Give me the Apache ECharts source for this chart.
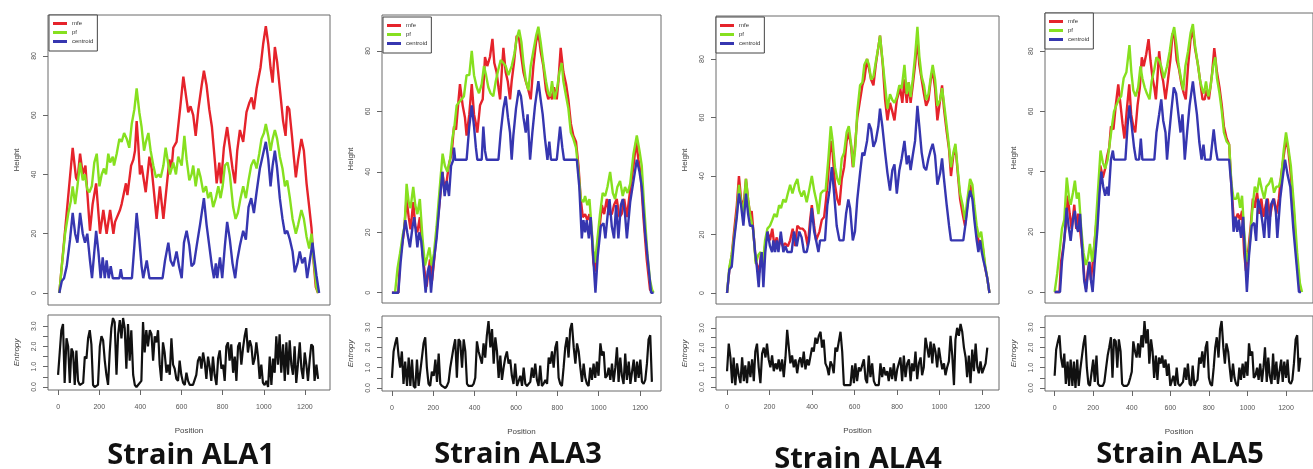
<!DOCTYPE html>
<html><head><meta charset="utf-8">
<script src="https://cdn.jsdelivr.net/npm/echarts@6/dist/echarts.min.js"></script>
<style>html,body{margin:0;padding:0;background:#fff}#c{width:1313px;height:469px}</style>
</head><body><div id="c"></div>
<script>
// ---------- DATA ----------
const strains = ['Strain ALA1','Strain ALA3','Strain ALA4','Strain ALA5'];
const seriesNames = ['mfe','pf','centroid'];
const heightTicks = [0,20,40,60,80];
const entropyTicks = [0,0.5,1,1.5,2,2.5,3];
const entropyLabels = [0,1,2,3];
const positionTicks = [0,200,400,600,800,1000,1200];

// Strain ALA1 mountain plot [position, height]
const ala1Mfe = [[6,0],[71,49],[87,39],[94,38],[107,47],[120,40],[133,43],[142,34],[155,21],[168,30],[185,37],[204,20],[220,28],[236,20],[253,28],[269,20],[277,24],[285,24],[301,28],[309,30],[330,37],[337,33],[355,43],[366,45],[374,48],[382,58],[390,50],[398,40],[406,43],[426,34],[444,46],[455,42],[479,25],[495,36],[512,25],[528,36],[541,45],[552,42],[560,49],[576,51],[593,62],[609,73],[625,65],[633,61],[644,63],[657,60],[669,53],[682,62],[698,70],[709,75],[722,70],[735,62],[748,56],[763,44],[771,37],[784,44],[792,37],[806,49],[822,56],[835,49],[848,42],[860,37],[871,48],[884,55],[900,51],[916,61],[929,64],[941,66],[952,62],[965,69],[984,76],[997,84],[1010,90],[1022,84],[1033,76],[1043,71],[1054,83],[1065,78],[1078,69],[1094,58],[1106,53],[1114,63],[1124,62],[1137,53],[1146,46],[1156,39],[1167,45],[1183,52],[1195,48],[1208,37],[1221,29],[1232,22],[1243,10],[1253,2],[1264,0]];
const ala1Pf = [[6,0],[18,9],[34,20],[50,27],[62,31],[71,36],[83,30],[94,36],[107,44],[120,38],[130,40],[142,35],[152,34],[164,36],[176,44],[188,47],[201,36],[212,40],[223,42],[233,40],[244,47],[253,44],[266,46],[272,43],[285,47],[298,52],[309,51],[321,54],[334,52],[346,49],[358,57],[371,62],[382,69],[395,61],[406,56],[418,48],[427,51],[439,54],[450,48],[463,43],[476,39],[489,40],[499,39],[512,43],[523,49],[544,40],[560,44],[573,40],[584,46],[601,43],[614,53],[625,45],[638,38],[649,40],[657,43],[669,36],[682,42],[693,39],[706,34],[719,36],[730,32],[742,34],[754,29],[767,32],[779,36],[790,32],[800,36],[811,43],[824,44],[835,40],[851,29],[863,25],[874,27],[887,32],[900,36],[913,32],[926,38],[939,43],[952,45],[965,42],[978,47],[989,52],[1001,54],[1010,57],[1022,53],[1033,48],[1043,52],[1054,55],[1065,52],[1078,46],[1091,42],[1103,36],[1114,38],[1127,32],[1140,25],[1156,20],[1167,23],[1183,28],[1195,25],[1208,19],[1221,15],[1232,20],[1243,11],[1256,2],[1264,0]];
const ala1Cen = [[6,0],[18,4],[29,5],[42,9],[58,18],[71,27],[83,20],[94,17],[107,27],[120,20],[131,17],[142,20],[155,11],[165,5],[185,21],[196,14],[207,5],[217,12],[227,5],[236,11],[246,5],[256,9],[266,5],[298,5],[305,8],[312,5],[359,5],[371,16],[382,27],[395,18],[406,9],[414,5],[431,11],[444,5],[508,5],[520,11],[536,17],[547,11],[560,9],[576,14],[588,9],[601,5],[612,17],[625,21],[638,16],[649,9],[661,10],[674,16],[690,23],[709,32],[722,23],[735,16],[748,9],[758,5],[767,10],[774,5],[787,12],[798,5],[811,16],[822,24],[835,18],[848,10],[861,5],[871,11],[884,16],[900,21],[913,18],[926,29],[939,32],[952,27],[965,34],[981,42],[997,47],[1010,51],[1022,45],[1033,36],[1043,43],[1054,48],[1065,42],[1078,32],[1091,25],[1103,20],[1114,21],[1127,18],[1140,14],[1151,7],[1164,10],[1175,14],[1187,10],[1200,12],[1211,5],[1224,11],[1237,17],[1247,11],[1256,6],[1269,0]];

// Strain ALA3
const ala3Mfe = [[0,0],[31,0],[39,11],[47,15],[58,20],[71,31],[81,25],[90,21],[103,30],[113,22],[123,20],[135,25],[148,13],[160,6],[168,2],[176,7],[184,11],[194,4],[203,10],[216,20],[232,31],[244,40],[253,35],[265,37],[277,43],[289,46],[300,55],[310,54],[321,63],[329,69],[342,62],[353,58],[361,52],[374,59],[386,69],[397,59],[406,56],[413,53],[426,62],[439,64],[450,78],[461,75],[474,78],[486,84],[495,76],[506,73],[515,68],[523,64],[531,73],[539,81],[550,73],[560,70],[571,64],[579,70],[590,76],[603,85],[615,84],[624,79],[636,73],[647,70],[660,67],[671,64],[684,75],[697,83],[708,86],[719,80],[732,75],[745,67],[756,64],[765,66],[774,64],[784,68],[797,64],[805,70],[816,81],[829,73],[842,69],[853,64],[865,56],[877,52],[890,50],[902,42],[913,31],[923,25],[934,26],[945,24],[955,26],[966,20],[974,10],[982,7],[990,13],[1003,21],[1015,29],[1026,26],[1039,31],[1050,26],[1063,26],[1074,29],[1087,31],[1100,25],[1111,26],[1123,31],[1136,25],[1152,34],[1168,42],[1181,50],[1192,44],[1203,39],[1216,25],[1232,11],[1248,1],[1261,0]];
const ala3Pf = [[15,0],[27,8],[39,13],[52,19],[61,22],[71,36],[81,30],[90,28],[103,35],[113,29],[123,26],[135,31],[148,18],[160,9],[171,12],[181,15],[192,9],[203,13],[216,22],[229,33],[245,46],[256,42],[268,40],[281,44],[292,51],[302,55],[313,62],[324,63],[337,64],[348,65],[361,72],[374,72],[386,80],[397,72],[410,68],[421,66],[434,69],[445,75],[455,72],[466,68],[477,66],[490,65],[502,70],[515,74],[526,77],[539,76],[550,75],[563,72],[579,75],[592,79],[603,84],[615,87],[626,83],[636,76],[648,70],[660,67],[671,75],[684,80],[697,85],[708,88],[719,83],[732,76],[745,70],[756,66],[765,65],[774,70],[786,64],[797,67],[810,73],[821,76],[829,70],[842,65],[853,61],[865,53],[877,51],[890,48],[902,40],[913,31],[926,30],[934,32],[945,29],[955,31],[966,21],[974,14],[982,10],[994,18],[1006,26],[1019,33],[1031,32],[1042,35],[1055,40],[1068,33],[1079,31],[1090,35],[1103,37],[1116,32],[1127,35],[1139,33],[1152,36],[1168,46],[1184,52],[1197,47],[1208,42],[1219,29],[1235,13],[1248,4],[1258,1],[1265,0]];
const ala3Cen = [[0,0],[31,0],[42,10],[55,19],[65,24],[74,20],[87,15],[100,22],[108,25],[116,20],[123,15],[132,20],[142,17],[152,9],[163,0],[173,7],[181,9],[189,0],[200,9],[216,18],[232,31],[244,40],[255,32],[265,37],[276,32],[286,42],[297,44],[300,48],[306,44],[361,44],[374,55],[386,62],[397,55],[406,48],[413,44],[434,44],[442,55],[450,47],[458,44],[515,44],[526,53],[539,61],[550,65],[561,58],[571,53],[579,44],[587,52],[600,61],[613,67],[624,65],[636,58],[647,53],[656,59],[668,44],[679,53],[692,62],[708,70],[719,64],[729,59],[740,51],[752,44],[761,50],[769,44],[797,44],[813,55],[824,48],[832,44],[894,44],[906,35],[918,18],[926,24],[934,20],[942,24],[952,18],[961,25],[974,11],[984,0],[995,12],[1010,22],[1023,23],[1032,18],[1042,25],[1052,31],[1063,22],[1074,18],[1084,29],[1095,18],[1107,29],[1116,31],[1127,26],[1136,18],[1152,30],[1168,37],[1184,44],[1197,40],[1208,35],[1224,20],[1240,9],[1253,0],[1265,0]];

// Strain ALA4
const ala4Mfe = [[0,0],[11,8],[22,13],[33,21],[46,30],[56,40],[66,32],[77,29],[89,39],[99,32],[108,27],[116,28],[124,21],[135,11],[144,9],[152,7],[160,14],[168,9],[179,16],[190,21],[202,18],[213,22],[223,16],[234,19],[242,16],[253,18],[262,16],[273,17],[286,16],[297,18],[309,22],[320,16],[331,23],[344,22],[356,22],[367,21],[380,16],[391,25],[399,30],[410,23],[419,18],[435,21],[446,25],[457,26],[466,32],[477,41],[488,52],[497,48],[508,37],[519,32],[529,30],[540,39],[551,43],[563,52],[573,55],[584,50],[592,43],[602,50],[613,60],[626,66],[637,71],[646,73],[659,80],[668,80],[678,73],[689,71],[700,78],[712,84],[720,88],[733,78],[744,66],[755,59],[767,65],[778,62],[788,59],[799,66],[815,70],[825,65],[835,73],[846,65],[855,72],[864,65],[874,71],[885,78],[896,87],[905,78],[916,73],[927,68],[937,64],[948,66],[959,73],[968,76],[979,70],[990,59],[1003,66],[1012,71],[1021,63],[1034,55],[1045,49],[1054,40],[1065,47],[1075,50],[1086,41],[1097,32],[1109,27],[1120,23],[1131,30],[1144,37],[1155,34],[1164,27],[1175,21],[1186,17],[1194,18],[1203,16],[1214,9],[1225,5],[1235,0]];
const ala4Pf = [[0,0],[11,9],[22,13],[33,19],[46,27],[56,37],[66,31],[77,27],[89,39],[99,32],[108,27],[124,21],[135,10],[147,13],[158,14],[168,10],[179,18],[190,22],[202,23],[213,25],[223,27],[234,26],[245,30],[254,29],[265,32],[276,31],[286,34],[297,37],[308,34],[319,37],[331,39],[340,35],[351,33],[362,35],[375,31],[386,35],[399,40],[410,35],[422,31],[430,27],[441,34],[453,35],[464,35],[477,46],[488,57],[497,52],[508,43],[519,39],[529,37],[540,46],[551,48],[563,55],[573,57],[584,51],[595,43],[604,50],[613,62],[626,71],[637,72],[646,78],[659,80],[668,78],[678,73],[689,74],[700,79],[712,84],[720,88],[731,80],[744,71],[755,63],[767,68],[778,66],[788,65],[799,67],[811,71],[822,70],[835,78],[846,68],[855,72],[864,67],[874,73],[885,81],[896,91],[905,81],[916,74],[927,71],[937,66],[948,68],[959,74],[968,78],[979,73],[990,64],[1003,66],[1012,70],[1021,65],[1034,57],[1045,50],[1054,43],[1065,48],[1075,51],[1086,42],[1097,34],[1109,30],[1120,25],[1131,32],[1144,39],[1155,37],[1164,30],[1175,23],[1186,19],[1196,21],[1203,17],[1214,10],[1225,5],[1235,0]];
const ala4Cen = [[0,0],[11,8],[22,9],[33,18],[46,26],[56,34],[66,30],[77,23],[89,34],[99,27],[108,23],[121,23],[132,14],[140,9],[149,2],[155,9],[163,14],[171,2],[180,14],[190,21],[202,16],[212,14],[218,18],[226,14],[234,18],[242,14],[253,21],[265,14],[275,16],[284,14],[304,14],[315,21],[328,16],[340,21],[351,19],[362,14],[375,14],[386,18],[399,29],[410,21],[419,18],[430,14],[438,18],[461,18],[472,30],[482,35],[493,43],[504,34],[516,23],[529,18],[548,18],[560,27],[571,32],[579,29],[592,18],[602,21],[613,32],[626,41],[637,48],[646,47],[659,52],[668,58],[678,56],[689,50],[700,52],[712,57],[720,63],[731,57],[744,48],[755,41],[767,35],[778,42],[788,44],[799,34],[811,42],[822,46],[835,52],[846,44],[855,47],[864,42],[874,47],[885,52],[896,64],[905,57],[916,48],[927,43],[937,42],[948,46],[959,49],[968,51],[979,47],[990,37],[1003,41],[1012,46],[1021,39],[1034,30],[1045,23],[1054,18],[1112,18],[1125,25],[1136,32],[1144,35],[1155,32],[1164,25],[1175,18],[1183,14],[1191,18],[1199,14],[1207,11],[1214,9],[1225,5],[1235,0]];

// Strain ALA5
const ala5Mfe = [[0,0],[25,0],[33,10],[45,15],[58,22],[68,32],[78,26],[88,21],[102,29],[112,21],[122,26],[133,20],[145,13],[155,4],[163,1],[172,7],[180,10],[188,4],[198,10],[212,20],[225,29],[237,42],[250,38],[262,41],[272,45],[283,48],[292,55],[305,54],[317,62],[330,69],[342,62],[352,56],[362,51],[375,61],[387,69],[397,59],[408,55],[418,53],[430,62],[442,68],[452,78],[462,75],[475,79],[487,84],[497,77],[508,71],[517,68],[525,64],[533,71],[542,80],[553,73],[563,70],[575,64],[587,70],[600,77],[612,86],[622,85],[633,77],[645,74],[658,69],[670,66],[680,64],[692,75],[705,84],[717,87],[728,81],[742,76],[755,70],[767,64],[778,64],[788,67],[800,64],[808,68],[817,73],[828,81],[842,73],[855,68],[867,62],[878,55],[892,51],[905,49],[917,35],[928,25],[938,24],[950,26],[962,24],[972,27],[983,13],[992,7],[1003,13],[1017,22],[1028,31],[1038,28],[1050,33],[1062,26],[1072,31],[1083,25],[1095,29],[1105,31],[1117,25],[1128,29],[1138,31],[1150,26],[1163,31],[1175,39],[1192,47],[1200,51],[1212,47],[1225,39],[1242,25],[1258,9],[1275,0]];
const ala5Pf = [[0,0],[13,6],[25,13],[38,21],[50,24],[63,38],[75,31],[83,29],[95,33],[105,37],[115,31],[125,33],[138,21],[150,13],[162,9],[172,11],[183,16],[195,10],[208,17],[222,31],[238,47],[250,43],[262,41],[275,44],[287,50],[297,55],[308,60],[320,62],[333,64],[345,65],[358,71],[372,73],[388,82],[398,73],[408,67],[420,65],[433,68],[445,75],[455,71],[467,68],[478,66],[492,64],[503,70],[517,74],[528,78],[542,77],[553,75],[567,71],[583,75],[597,80],[608,85],[620,88],[632,82],[642,76],[655,71],[667,67],[678,75],[692,80],[705,86],[717,89],[728,82],[742,76],[755,70],[767,67],[775,66],[785,70],[797,65],[808,68],[822,75],[833,78],[842,71],[855,66],[867,60],[878,53],[892,50],[905,49],[917,36],[928,31],[942,31],[950,33],[962,28],[972,32],[983,20],[992,13],[1002,10],[1013,17],[1025,27],[1038,35],[1050,33],[1062,38],[1075,34],[1087,31],[1098,35],[1112,36],[1125,38],[1138,33],[1150,35],[1163,35],[1175,38],[1188,47],[1200,53],[1212,48],[1225,42],[1242,28],[1258,13],[1272,3],[1283,0]];
const ala5Cen = [[0,0],[28,0],[38,10],[50,17],[62,28],[72,22],[83,17],[95,24],[105,27],[112,22],[122,20],[132,26],[142,15],[153,4],[163,0],[172,6],[180,10],[188,4],[197,0],[208,10],[222,21],[233,33],[242,40],[252,35],[262,32],[272,35],[280,32],[292,44],[302,47],[308,44],[367,44],[378,55],[388,62],[400,55],[412,48],[422,44],[438,44],[447,51],[455,44],[517,44],[528,53],[542,59],[553,64],[563,57],[575,53],[583,44],[592,51],[605,60],[618,68],[630,66],[642,59],[653,53],[663,59],[675,44],[687,53],[700,62],[717,70],[728,64],[738,59],[750,50],[762,44],[772,49],[780,44],[808,44],[825,54],[837,47],[845,44],[905,44],[917,35],[928,20],[938,25],[947,20],[955,24],[967,18],[978,25],[988,11],[997,0],[1008,12],[1022,22],[1035,23],[1045,17],[1055,31],[1067,28],[1078,23],[1087,18],[1100,31],[1112,18],[1122,29],[1135,31],[1147,27],[1155,18],[1170,31],[1183,38],[1195,44],[1208,39],[1222,35],[1238,21],[1255,9],[1267,0],[1278,0]];

// Positional entropy, one value every ~8 positions (step per strain)
const ala1EntStep = 8.1;
const ala1Ent = [0.6,1.7,2.8,3.1,0.2,2.4,2.0,0.2,1.9,1.7,0.1,1.8,0.3,0.1,0.1,0.2,1.5,1.4,2.4,2.8,2.1,0.1,0.0,0.0,0.1,2.0,2.5,2.3,1.3,0.6,0.1,1.7,2.9,3.4,3.2,0.6,2.6,3.3,2.4,3.4,2.9,0.9,3.1,1.3,2.8,0.6,0.1,0.0,0.1,0.1,0.3,3.2,1.7,2.8,2.0,2.8,2.6,1.3,2.5,2.2,2.8,1.1,0.3,2.2,1.7,0.7,1.1,0.6,2.4,1.1,0.9,0.4,0.3,1.3,0.6,0.2,0.1,0.7,0.3,0.1,0.1,0.1,0.1,0.6,1.3,1.5,0.9,1.7,1.2,0.4,1.5,1.0,0.3,1.5,0.6,0.1,1.4,1.8,0.9,1.1,0.3,2.0,2.2,1.3,2.1,0.7,1.5,0.3,2.0,2.2,1.1,1.9,2.5,2.9,1.7,2.3,2.0,1.1,1.4,2.2,1.5,0.4,1.1,0.2,0.1,0.3,0.0,1.5,0.1,1.4,0.7,2.5,1.1,2.6,0.7,2.1,0.3,2.2,0.6,2.3,1.1,0.6,2.0,0.2,1.1,2.2,0.9,0.4,1.7,1.1,0.3,1.3,2.1,2.0,0.3,1.1,0.4];
const ala3EntStep = 8.06;
const ala3Ent = [0.5,1.8,2.2,2.5,1.6,1.0,1.8,0.2,1.3,0.1,1.5,0.1,1.4,0.1,0.0,1.4,0.1,0.8,1.5,2.2,2.5,1.0,0.2,0.1,0.8,0.6,1.4,0.3,1.7,0.2,0.1,0.1,0.0,0.1,0.3,1.0,1.5,2.0,2.4,0.5,2.4,2.3,1.0,2.4,1.8,0.2,0.1,0.1,0.1,0.2,0.5,2.3,1.8,1.5,1.2,2.2,1.5,2.6,3.3,2.0,2.9,1.2,2.5,1.8,0.5,1.6,0.4,1.0,1.5,1.8,1.2,1.4,0.6,0.2,1.2,0.1,0.1,0.6,0.1,1.0,0.2,0.1,0.1,0.3,1.0,0.5,1.2,0.4,0.1,1.1,0.1,0.2,0.4,0.2,1.5,1.2,1.8,1.0,2.0,2.3,0.5,0.2,0.1,1.0,2.0,2.5,1.5,2.9,3.2,2.0,1.2,2.2,1.8,1.0,0.3,1.2,0.5,0.2,0.1,1.0,0.4,1.2,0.5,1.3,0.6,2.2,1.6,1.8,0.5,0.6,1.0,0.4,1.2,0.3,1.0,2.0,0.3,1.5,0.6,0.2,1.7,0.4,1.3,0.2,0.8,1.4,0.3,1.3,0.5,1.4,0.3,0.2,0.4,1.2,2.4,2.6,0.3];
const ala4EntStep = 7.85;
const ala4Ent = [0.8,2.2,1.5,0.2,1.5,0.1,1.2,0.6,0.2,1.5,0.3,1.1,0.2,1.3,0.5,1.4,0.3,1.8,2.2,1.0,0.2,1.7,2.0,1.5,2.2,1.4,1.0,1.6,0.8,1.2,0.9,1.4,0.8,1.4,0.5,1.5,2.9,3.0,1.2,1.6,1.0,1.4,0.7,1.3,1.5,1.0,1.8,0.9,1.4,1.1,1.0,2.0,1.8,2.5,2.2,2.6,2.8,2.0,2.4,1.2,1.0,0.6,1.3,1.1,0.7,2.0,1.8,2.3,2.8,1.8,0.1,0.1,0.1,0.1,0.1,1.1,0.2,1.2,0.3,1.0,0.8,1.1,1.4,0.4,0.2,1.6,0.5,1.2,0.3,0.1,0.1,0.1,1.2,0.5,1.0,0.6,0.8,0.3,1.0,0.4,1.2,0.3,0.9,1.0,1.5,0.3,1.6,0.5,1.2,1.4,0.3,1.2,0.8,1.8,0.4,1.2,1.5,0.6,1.0,2.5,2.0,1.5,2.3,1.2,2.2,1.8,1.0,2.0,1.4,0.9,1.2,0.6,1.0,1.3,2.6,1.6,0.1,2.4,3.0,2.6,3.2,2.8,2.0,1.5,0.5,1.6,0.2,1.9,0.8,2.2,1.0,0.7,1.3,0.7,0.7,1.2,2.0];
const ala5EntStep = 8.33;
const ala5Ent = [0.6,1.9,2.3,2.6,1.5,1.0,1.7,0.2,1.3,0.1,1.4,0.1,1.3,0.0,1.4,0.1,0.9,1.6,2.2,2.6,1.0,0.2,0.1,0.8,1.4,0.3,1.6,0.2,0.1,0.1,0.1,0.3,1.0,1.6,2.0,2.5,0.5,2.4,2.3,1.0,2.4,1.8,0.2,0.1,0.1,0.1,0.2,0.5,0.8,2.3,1.8,1.5,2.2,1.5,2.6,2.0,3.3,2.2,2.9,1.2,2.4,1.8,0.5,1.6,0.4,1.5,1.2,1.6,1.0,1.4,0.6,1.2,0.1,0.1,0.6,0.1,1.0,0.2,0.1,0.1,0.3,1.0,0.4,1.2,0.2,0.1,1.1,0.1,0.3,0.4,1.5,1.2,1.8,1.0,2.0,2.3,0.5,0.2,0.1,1.0,2.0,2.5,1.5,2.9,3.3,2.0,1.2,2.2,1.8,1.0,0.3,1.2,0.5,0.2,0.1,1.0,0.4,1.2,0.5,1.3,0.6,2.2,1.6,1.8,0.5,0.6,1.0,0.4,1.2,0.3,1.0,2.0,0.3,1.5,0.6,0.2,1.7,0.4,1.3,0.2,0.8,1.4,0.3,1.3,0.5,1.4,0.3,0.2,0.4,1.2,2.4,2.6,0.8,1.5];

// ---------- LAYOUT / STYLE ----------
const colors = {mfe:'#e5232b', pf:'#86e01f', centroid:'#3636b0'};
const panels = [
  {title:strains[0], mfe:ala1Mfe, pf:ala1Pf, cen:ala1Cen, ent:ala1Ent, step:ala1EntStep,
   left:48, width:282, up:{top:15,height:290,ymin:-4.05,ymax:93.8}, low:{top:315,height:75},
   xmin:-49, xmax:1322, lab:[1, 15], titleX:191, titleY:456},
  {title:strains[1], mfe:ala3Mfe, pf:ala3Pf, cen:ala3Cen, ent:ala3Ent, step:ala3EntStep,
   left:382, width:279, up:{top:15,height:288,ymin:-3.4,ymax:91.9}, low:{top:316,height:75},
   xmin:-48, xmax:1301, lab:[1, 17], titleX:518, titleY:455},
  {title:strains[2], mfe:ala4Mfe, pf:ala4Pf, cen:ala4Cen, ent:ala4Ent, step:ala4EntStep,
   left:716, width:283, up:{top:16,height:288,ymin:-3.76,ymax:94.7}, low:{top:317,height:73},
   xmin:-52, xmax:1280, lab:[0, 17], titleX:858, titleY:460},
  {title:strains[3], mfe:ala5Mfe, pf:ala5Pf, cen:ala5Cen, ent:ala5Ent, step:ala5EntStep,
   left:1045, width:278, up:{top:13,height:290,ymin:-3.65,ymax:92.7}, low:{top:316,height:75},
   xmin:-50, xmax:1340, lab:[0, 13], titleX:1180, titleY:455}
];

const axisTxt = {fontFamily:'Liberation Sans', color:'#555', fontSize:7};
const option = {animation:false, backgroundColor:'#fff', grid:[], xAxis:[], yAxis:[], series:[], legend:[], graphic:[]};

panels.forEach((p, k) => {
  const gu = option.grid.length;
  option.grid.push({left:p.left, top:p.up.top, width:p.width, height:p.up.height, show:true, borderColor:'#6a6a6a', borderWidth:1, backgroundColor:'transparent'});
  option.grid.push({left:p.left, top:p.low.top, width:p.width, height:p.low.height, show:true, borderColor:'#6a6a6a', borderWidth:1, backgroundColor:'transparent'});
  // upper axes
  option.xAxis.push({type:'value', gridIndex:gu, min:p.xmin, max:p.xmax, show:false, axisLine:{onZero:false}});
  option.yAxis.push({type:'value', gridIndex:gu, min:p.up.ymin, max:p.up.ymax,
    name:'Height', nameLocation:'middle', nameGap:27,
    nameTextStyle:{fontFamily:'Liberation Sans', color:'#444', fontSize:8},
    axisLine:{show:false, onZero:false}, splitLine:{show:false},
    axisTick:{show:true, length:5, lineStyle:{color:'#666'}, customValues:heightTicks},
    axisLabel:Object.assign({rotate:90, margin:10, customValues:heightTicks}, axisTxt)});
  // lower axes
  option.xAxis.push({type:'value', gridIndex:gu+1, min:p.xmin, max:p.xmax,
    name:'Position', nameLocation:'middle', nameGap:37,
    nameTextStyle:{fontFamily:'Liberation Sans', color:'#444', fontSize:8},
    axisLine:{show:false, onZero:false}, splitLine:{show:false},
    axisTick:{show:true, length:5, lineStyle:{color:'#666'}, customValues:positionTicks},
    axisLabel:Object.assign({margin:14, customValues:positionTicks, formatter:v=>String(v)}, axisTxt)});
  option.yAxis.push({type:'value', gridIndex:gu+1, min:-0.15, max:3.55,
    name:'Entropy', nameLocation:'middle', nameGap:27,
    nameTextStyle:{fontFamily:'Liberation Sans', color:'#444', fontSize:8, fontStyle:'italic'},
    axisLine:{show:false, onZero:false}, splitLine:{show:false},
    axisTick:{show:true, length:5, lineStyle:{color:'#666'}, customValues:entropyTicks},
    axisLabel:Object.assign({rotate:90, margin:10, customValues:entropyLabels, formatter:v=>Number(v).toFixed(1)}, axisTxt)});

  const mk = (name, data) => ({type:'line', name, xAxisIndex:gu, yAxisIndex:gu, data,
    showSymbol:false, symbol:'none', lineStyle:{width:2.4, color:colors[name]}, itemStyle:{color:colors[name]}, z:2});
  option.series.push(mk('mfe', p.mfe), mk('pf', p.pf), mk('centroid', p.cen));
  option.series.push({type:'line', name:'entropy'+k, xAxisIndex:gu+1, yAxisIndex:gu+1,
    data:p.ent.map((v,i)=>[Math.round(i*p.step), v]), showSymbol:false, symbol:'none',
    lineStyle:{width:2.2, color:'#111'}});

  option.legend.push({data:seriesNames, left:p.left+p.lab[0], top:p.lab[1], orient:'vertical',
    icon:'rect', itemWidth:14, itemHeight:3, itemGap:2, selectedMode:false,
    textStyle:{fontFamily:'Liberation Sans', fontSize:6, color:'#333', lineHeight:7},
    borderColor:'#444', borderWidth:1, backgroundColor:'#fff', padding:[5,4,6,4]});

  option.graphic.push({type:'text', x:p.titleX, y:p.titleY, z:10,
    style:{text:p.title, font:'bold 29px "Open Sans"', fill:'#111', align:'center', verticalAlign:'middle'}});
});

const chart = echarts.init(document.getElementById('c'), null, {renderer:'canvas'});
chart.setOption(option);
</script>
</body></html>
